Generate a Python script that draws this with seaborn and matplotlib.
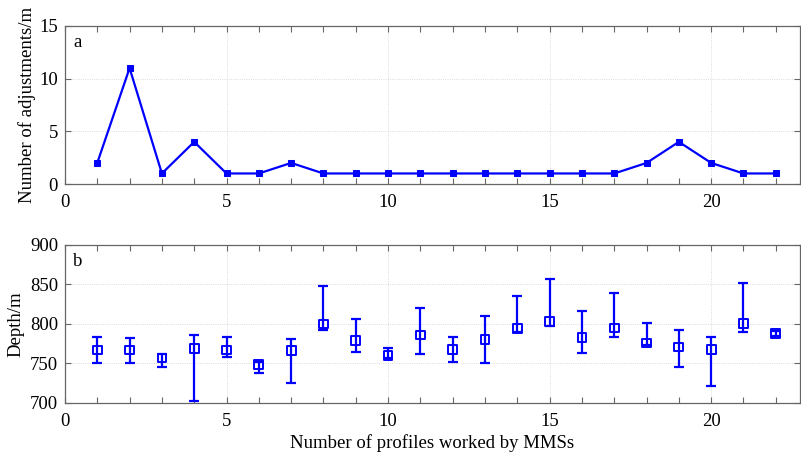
import matplotlib
matplotlib.use("Agg")
import matplotlib.pyplot as plt
from matplotlib.ticker import MultipleLocator
import seaborn as sns
import pandas as pd
import numpy as np

# Profile index
profiles = list(range(1, 23))

# (a) number of adjustments per profile
adjustments = [2, 11, 1, 4, 1, 1, 2, 1, 1, 1, 1, 1, 1, 1, 1, 1, 1, 2, 4, 2, 1, 1]

# (b) working depth: mean with upper / lower extent
depth_mean = [767, 767, 757, 769, 767, 749, 766, 800, 779, 760, 786,
              768, 780, 794, 803, 783, 795, 776, 771, 768, 801, 788]
depth_top = [784, 782, 762, 786, 783, 752, 781, 848, 806, 769, 820,
             784, 810, 835, 857, 816, 839, 801, 792, 784, 852, 791]
depth_bottom = [750, 751, 745, 702, 758, 738, 725, 793, 765, 757, 762,
                752, 751, 790, 798, 763, 784, 773, 745, 722, 790, 785]

sns.set_theme(style="white")
plt.rcParams["font.family"] = ["Liberation Serif", "DejaVu Serif"]
plt.rcParams["text.color"] = "black"
plt.rcParams["axes.labelcolor"] = "black"

BLUE = "#0000ff"
SPINE = "#666666"
FS = 13.5

fig = plt.figure(figsize=(8.01, 4.55), dpi=100)
ax_a = fig.add_axes([0.0811, 0.5956, 0.9177, 0.3473])
ax_b = fig.add_axes([0.0811, 0.1143, 0.9177, 0.3473])

df_a = pd.DataFrame({"profile": profiles, "adjustments": adjustments})
sns.lineplot(data=df_a, x="profile", y="adjustments", ax=ax_a, color=BLUE,
             linewidth=1.6, marker="s", markersize=4.5, markeredgecolor=BLUE,
             markerfacecolor=BLUE)

mean = np.array(depth_mean)
err = np.vstack([mean - np.array(depth_bottom), np.array(depth_top) - mean])
ax_b.errorbar(profiles, depth_mean, yerr=err, fmt="none", ecolor=BLUE,
              elinewidth=1.6, capsize=3.5, capthick=1.6, zorder=3)
df_b = pd.DataFrame({"profile": profiles, "depth": depth_mean})
sns.scatterplot(data=df_b, x="profile", y="depth", ax=ax_b, marker="s", s=40,
                facecolor="none", edgecolor=BLUE, linewidth=1.4, zorder=4)

for ax in (ax_a, ax_b):
    ax.set_xlim(0, 22.75)
    ax.xaxis.set_major_locator(MultipleLocator(5))
    ax.xaxis.set_minor_locator(MultipleLocator(1))
    ax.tick_params(axis="both", which="both", direction="in", top=True,
                   right=True, bottom=True, left=True, color=SPINE,
                   labelsize=FS, labelcolor="black")
    ax.tick_params(axis="x", which="both", pad=7)
    ax.tick_params(axis="y", which="both", pad=5)
    ax.tick_params(which="major", length=4, width=0.8)
    ax.tick_params(which="minor", length=4, width=0.8)
    ax.grid(True, which="major", linestyle=":", linewidth=0.6, color="#d0d0d0")
    for sp in ax.spines.values():
        sp.set_color(SPINE)
        sp.set_linewidth(0.9)
    ax.set_axisbelow(True)

ax_a.set_ylim(0, 15)
ax_a.yaxis.set_major_locator(MultipleLocator(5))
ax_a.set_xlabel("")
ax_a.set_ylabel("Number of adjustments/m", fontsize=FS, labelpad=2)
ax_a.text(0.011, 0.895, "a", transform=ax_a.transAxes, fontsize=FS,
          ha="left", va="center")

ax_b.set_ylim(700, 900)
ax_b.yaxis.set_major_locator(MultipleLocator(50))
ax_b.set_xlabel("Number of profiles worked by MMSs", fontsize=FS, labelpad=3)
ax_b.set_ylabel("Depth/m", fontsize=FS, labelpad=4)
ax_b.text(0.011, 0.895, "b", transform=ax_b.transAxes, fontsize=FS,
          ha="left", va="center")

fig.savefig("out.png", dpi=100)
